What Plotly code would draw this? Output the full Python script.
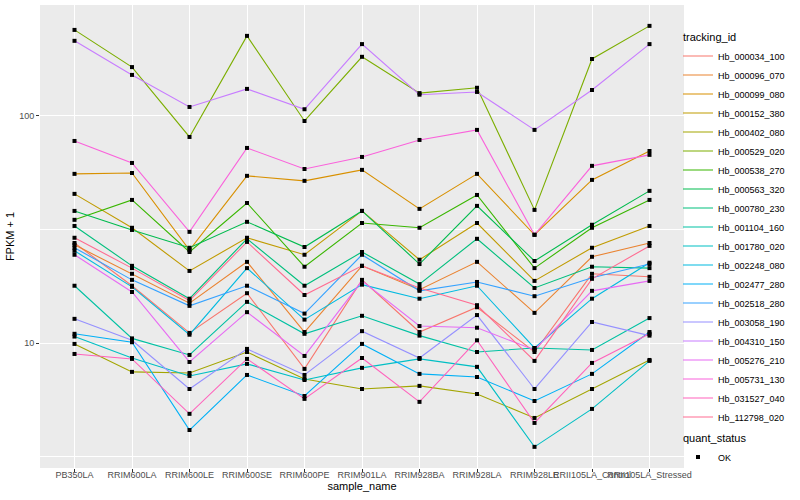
import plotly.graph_objects as go

samples = ["PB350LA", "RRIM600LA", "RRIM600LE", "RRIM600SE", "RRIM600PE", "RRIM901LA",
           "RRIM928BA", "RRIM928LA", "RRIM928LE", "RRII105LA_Control", "RRII105LA_Stressed"]

tracking_ids = ["Hb_000034_100", "Hb_000096_070", "Hb_000099_080", "Hb_000152_380", "Hb_000402_080",
                "Hb_000529_020", "Hb_000538_270", "Hb_000563_320", "Hb_000780_230", "Hb_001104_160",
                "Hb_001780_020", "Hb_002248_080", "Hb_002477_280", "Hb_002518_280", "Hb_003058_190",
                "Hb_004310_150", "Hb_005276_210", "Hb_005731_130", "Hb_031527_040", "Hb_112798_020"]

colors = ["#F8766D", "#EA8331", "#D89000", "#C09B00", "#A3A500", "#7CAE00", "#39B600", "#00BB4E",
          "#00BF7D", "#00C1A3", "#00BFC4", "#00BAE0", "#00B0F6", "#35A2FF", "#9590FF", "#C77CFF",
          "#E76BF3", "#FA62DB", "#FF62BC", "#FF6C91"]

# FPKM + 1 per sample (order of `samples`)
Hb_000034_100 = [27.6, 17.9, 11.1, 16.6, 7.71, 19.0, 11.2, 14.4, 9.15, 20.2, 19.6]
Hb_000096_070 = [27.1, 20.2, 15.0, 22.8, 11.2, 21.9, 17.2, 22.8, 13.6, 24.0, 27.6]
Hb_000099_080 = [55.6, 56.1, 25.7, 54.5, 51.8, 57.9, 39.0, 55.6, 30.0, 52.3, 70.1]
Hb_000152_380 = [45.4, 32.2, 20.8, 29.1, 24.5, 38.2, 23.3, 33.8, 18.8, 26.3, 32.8]
Hb_000402_080 = [9.93, 7.48, 7.40, 9.15, 6.96, 6.29, 6.49, 5.98, 4.69, 6.29, 8.44]
Hb_000529_020 = [239, 164, 80.8, 225, 95, 182, 126, 133, 38.6, 178, 249]
Hb_000538_270 = [34.9, 42.7, 25.2, 41.4, 21.7, 33.8, 32.2, 44.9, 21.4, 32.2, 42.7]
Hb_000563_320 = [38.2, 31.5, 26.3, 34.2, 26.5, 38.2, 22.3, 40.2, 23.0, 33.2, 46.8]
Hb_000780_230 = [32.8, 21.9, 15.7, 28.8, 17.9, 25.2, 18.2, 28.8, 17.5, 21.7, 21.4]
Hb_001104_160 = [17.9, 10.5, 8.88, 15.2, 11.0, 13.2, 10.8, 9.15, 9.53, 9.34, 12.9]
Hb_001780_020 = [10.7, 8.61, 7.18, 8.11, 6.89, 7.79, 8.53, 7.87, 3.50, 5.14, 8.36]
Hb_002248_080 = [25.5, 17.7, 10.9, 21.4, 12.7, 18.1, 15.7, 17.9, 9.53, 15.7, 22.6]
Hb_002477_280 = [11.0, 10.1, 4.15, 7.25, 5.86, 9.93, 7.33, 7.10, 5.57, 7.33, 11.2]
Hb_002518_280 = [26.3, 19.0, 14.6, 17.9, 13.5, 24.5, 17.0, 18.6, 16.1, 19.4, 22.3]
Hb_003058_190 = [12.8, 10.3, 6.29, 9.44, 7.25, 11.3, 8.61, 13.3, 6.29, 12.4, 10.8]
Hb_004310_150 = [214, 151.5, 109.5, 131.5, 107, 207, 124, 127.5, 86.8, 130, 207]
Hb_005276_210 = [24.5, 16.8, 8.27, 13.7, 8.79, 18.8, 11.9, 11.7, 9.34, 17.0, 18.8]
Hb_005731_130 = [77.6, 62.1, 30.9, 72.3, 58.4, 66.0, 78.4, 86.8, 30.0, 60.3, 67.4]
Hb_031527_040 = [8.97, 8.53, 4.89, 8.53, 5.69, 8.61, 5.52, 10.3, 4.46, 8.19, 11.0]
Hb_112798_020 = [29.1, 21.4, 15.4, 27.9, 16.3, 21.9, 17.5, 14.7, 8.36, 19.2, 26.8]

series = [Hb_000034_100, Hb_000096_070, Hb_000099_080, Hb_000152_380, Hb_000402_080,
          Hb_000529_020, Hb_000538_270, Hb_000563_320, Hb_000780_230, Hb_001104_160,
          Hb_001780_020, Hb_002248_080, Hb_002477_280, Hb_002518_280, Hb_003058_190,
          Hb_004310_150, Hb_005276_210, Hb_005731_130, Hb_031527_040, Hb_112798_020]

FONT = "Liberation Sans"
fig = go.Figure()

for i, (name, col, vals) in enumerate(zip(tracking_ids, colors, series)):
    fig.add_trace(go.Scatter(
        x=samples, y=vals, mode="lines", name=name,
        line=dict(color=col, width=1.1),
        legendgroup="tid",
        legendgrouptitle=dict(text="tracking_id", font=dict(size=11, color="black", family=FONT)) if i == 0 else None,
    ))

all_x = [s for vals in series for s in samples]
all_y = [v for vals in series for v in vals]
fig.add_trace(go.Scatter(
    x=all_x, y=all_y, mode="markers", name="OK",
    marker=dict(color="black", symbol="square", size=4),
    legendgroup="qs",
    legendgrouptitle=dict(text="quant_status", font=dict(size=11, color="black", family=FONT)),
))

fig.update_layout(
    width=800, height=500,
    margin=dict(l=40, r=116, t=5, b=32, autoexpand=False),
    paper_bgcolor="white",
    plot_bgcolor="#EBEBEB",
    font=dict(family=FONT, size=9, color="black"),
    showlegend=True,
    legend=dict(
        xref="container", yref="container",
        x=0.8475, xanchor="left", y=0.955, yanchor="top",
        maxheight=490,
        font=dict(size=9, color="black", family=FONT),
        tracegroupgap=2, itemwidth=30, bgcolor="rgba(0,0,0,0)",
        traceorder="grouped",
    ),
    xaxis=dict(
        type="category", range=[-0.6, 10.6], automargin=False,
        showgrid=True, gridcolor="white", gridwidth=1.1,
        ticks="outside", ticklen=3, tickcolor="#333333", tickwidth=1,
        tickfont=dict(size=9, color="#4D4D4D", family=FONT),
        ticklabelstandoff=-5,
        tickangle=0, zeroline=False, showline=False,
        title=dict(text="sample_name", font=dict(size=11, color="black", family=FONT), standoff=2),
    ),
    yaxis=dict(
        type="log", range=[0.451, 2.488], automargin=False,
        tickvals=[10, 100], ticktext=["10", "100"],
        showgrid=True, gridcolor="white", gridwidth=1.1,
        minor=dict(tickvals=[10 ** 0.5, 10 ** 1.5], showgrid=True, gridcolor="white", gridwidth=0.55, ticklen=0),
        ticks="outside", ticklen=3, tickcolor="#333333", tickwidth=1,
        tickfont=dict(size=9, color="#4D4D4D", family=FONT),
        zeroline=False, showline=False,
        title=dict(text="FPKM + 1", font=dict(size=11, color="black", family=FONT), standoff=2),
    ),
)

fig.write_html("out.html", config={"displayModeBar": False},
               post_script="document.body.style.margin='0';")
